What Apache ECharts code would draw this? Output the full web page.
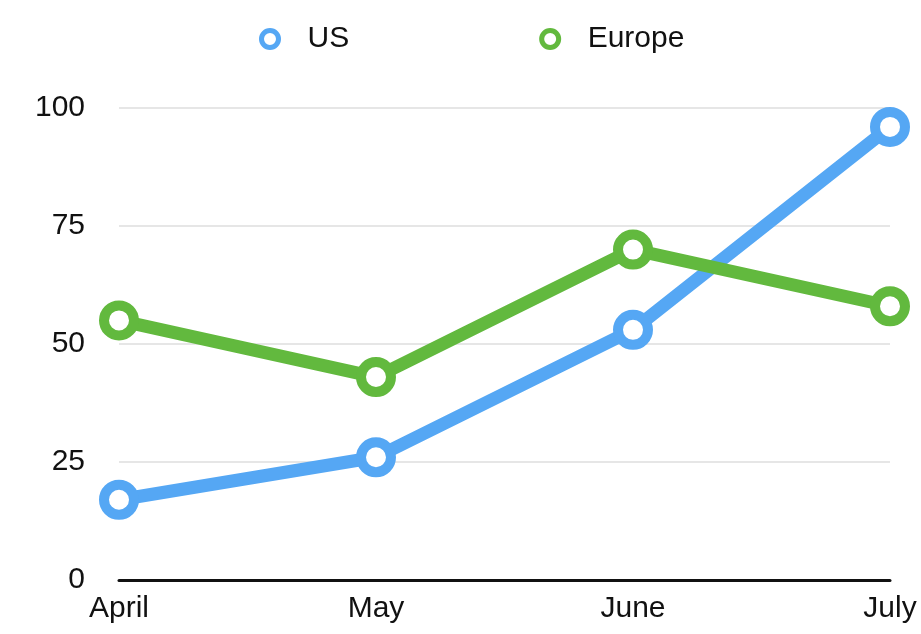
<!DOCTYPE html>
<html>
<head>
<meta charset="utf-8">
<script src="https://cdn.jsdelivr.net/npm/echarts@6/dist/echarts.min.js"></script>
<style>
  html, body { margin: 0; padding: 0; background: #fff; }
  #chart { width: 921px; height: 634px; }
</style>
</head>
<body>
<div id="chart"></div>
<script>
const months = ["April", "May", "June", "July"];
const usValues = [17, 26, 53, 96];
const europeValues = [55, 43, 70, 58];
const yTicks = [0, 25, 50, 75, 100];

(() => {
  const font = "'Liberation Sans', Arial, sans-serif";
  const chart = echarts.init(document.getElementById("chart"), null, { renderer: "canvas" });

  const lineSeries = (name, data, color) => ({
    name,
    type: "line",
    data,
    symbol: "circle",
    symbolSize: 30,
    lineStyle: { color, width: 13 },
    itemStyle: { color: "#fff", borderColor: color, borderWidth: 10 },
    emphasis: { disabled: true },
    z: 2
  });

  chart.setOption({
    animation: false,
    color: ["#55a7f4", "#62b93e"],
    legend: {
      top: 19,
      left: 254,
      itemGap: 190,
      itemWidth: 17,
      itemHeight: 17,
      icon: "circle",
      textStyle: { fontFamily: font, fontSize: 30, color: "#111", padding: [0, 0, 0, 24] },
      data: [
        { name: "US", itemStyle: { color: "#fff", borderColor: "#55a7f4", borderWidth: 5 } },
        { name: "Europe", itemStyle: { color: "#fff", borderColor: "#62b93e", borderWidth: 5 } }
      ]
    },
    grid: { left: 119, right: 31, top: 108, bottom: 54 },
    xAxis: {
      type: "category",
      data: months,
      boundaryGap: false,
      axisLine: { lineStyle: { color: "#111", width: 3 } },
      axisTick: { show: false },
      axisLabel: { fontFamily: font, fontSize: 30, color: "#111", margin: 14 },
      splitLine: { show: false }
    },
    yAxis: {
      type: "value",
      min: yTicks[0],
      max: yTicks[yTicks.length - 1],
      interval: 25,
      axisLine: { show: false },
      axisTick: { show: false },
      axisLabel: { fontFamily: font, fontSize: 30, color: "#111", margin: 34 },
      splitLine: { lineStyle: { color: "#e6e6e6", width: 2 } }
    },
    series: [
      lineSeries("US", usValues, "#55a7f4"),
      lineSeries("Europe", europeValues, "#62b93e")
    ]
  });
})();
</script>
</body>
</html>
